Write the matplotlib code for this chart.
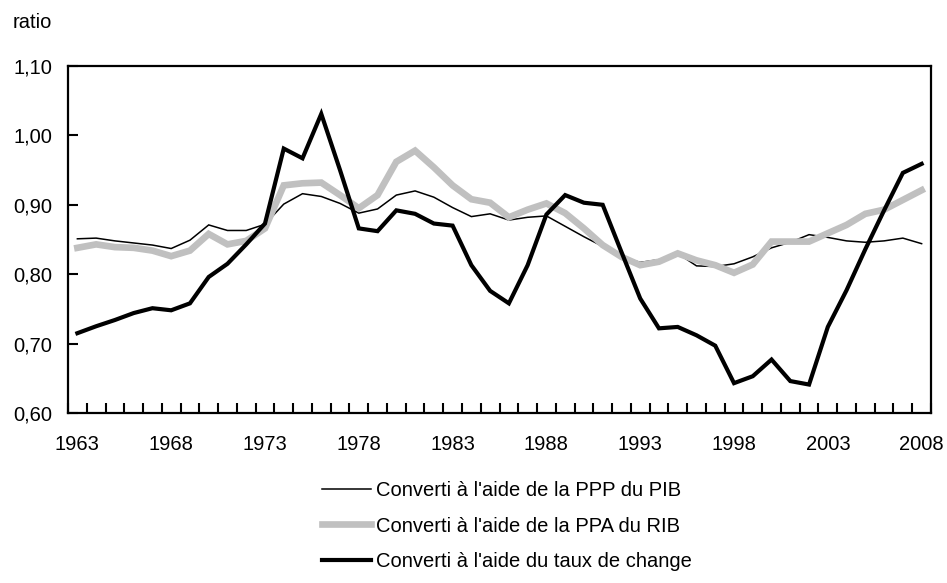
import matplotlib
matplotlib.use("Agg")
import matplotlib.pyplot as plt
import numpy as np

plt.rcParams['font.family'] = ['Liberation Sans', 'DejaVu Sans']

years = list(range(1963, 2009))

ppp_pib = [0.851, 0.852, 0.848, 0.845, 0.842, 0.837, 0.849, 0.871, 0.863, 0.863,
           0.872, 0.901, 0.916, 0.912, 0.902, 0.888, 0.894, 0.914, 0.920, 0.911,
           0.896, 0.883, 0.887, 0.878, 0.882, 0.884, 0.869, 0.854, 0.840, 0.825,
           0.817, 0.821, 0.830, 0.812, 0.811, 0.815, 0.825, 0.838, 0.846, 0.857,
           0.853, 0.848, 0.846, 0.848, 0.852, 0.844]

ppa_rib = [0.838, 0.843, 0.839, 0.838, 0.834, 0.826, 0.834, 0.858, 0.843, 0.848,
           0.866, 0.928, 0.931, 0.932, 0.914, 0.895, 0.914, 0.962, 0.978, 0.954,
           0.928, 0.908, 0.903, 0.882, 0.893, 0.902, 0.888, 0.866, 0.842, 0.825,
           0.813, 0.818, 0.830, 0.820, 0.813, 0.802, 0.814, 0.847, 0.847, 0.847,
           0.859, 0.871, 0.887, 0.893, 0.907, 0.921]

taux_change = [0.715, 0.725, 0.734, 0.744, 0.751, 0.748, 0.758, 0.796, 0.815, 0.843,
               0.873, 0.981, 0.967, 1.031, 0.950, 0.866, 0.862, 0.892, 0.887, 0.873,
               0.870, 0.813, 0.776, 0.758, 0.813, 0.886, 0.914, 0.903, 0.900, 0.832,
               0.765, 0.722, 0.724, 0.712, 0.697, 0.643, 0.653, 0.677, 0.646, 0.641,
               0.724, 0.777, 0.836, 0.892, 0.946, 0.959]

labels = ["Converti à l'aide de la PPP du PIB",
          "Converti à l'aide de la PPA du RIB",
          "Converti à l'aide du taux de change"]

ytick_vals = [0.60, 0.70, 0.80, 0.90, 1.00, 1.10]
xtick_years = [1963, 1968, 1973, 1978, 1983, 1988, 1993, 1998, 2003, 2008]

FS = 14.5
W, H = 947, 583
fig = plt.figure(figsize=(W / 100, H / 100), dpi=100)
ax = fig.add_axes([68 / W, 1 - 413 / H, (931 - 68) / W, (413 - 66) / H])

x = np.arange(len(years))
l1, = ax.plot(x, ppp_pib, color='black', lw=1.1, solid_joinstyle='miter')
l2, = ax.plot(x, ppa_rib, color='#c0c0c0', lw=4.8, solid_joinstyle='miter')
l3, = ax.plot(x, taux_change, color='black', lw=3.0, solid_joinstyle='miter')

ax.set_xlim(-0.5, len(years) - 0.5)
ax.set_ylim(0.60, 1.10)

ax.set_yticks(ytick_vals)
ax.set_yticklabels([f"{v:.2f}".replace('.', ',') for v in ytick_vals])
ax.tick_params(axis='y', direction='in', length=7, width=1.5, pad=11.5, labelsize=FS)

ax.set_xticks([years.index(y) for y in xtick_years])
ax.set_xticklabels([str(y) for y in xtick_years])
ax.tick_params(axis='x', which='major', length=0, pad=16, labelsize=FS)
ax.set_xticks(np.arange(-0.5, len(years), 1.0), minor=True)
ax.tick_params(axis='x', which='minor', direction='in', length=7, width=1.5)

for s in ax.spines.values():
    s.set_linewidth(1.6)
    s.set_color('black')

fig.text(13 / W, 1 - 22 / H, "ratio", fontsize=FS, ha='left', va='center')

fig.legend([l1, l2, l3], labels, loc='center left',
           bbox_to_anchor=(322 / W, 1 - 526 / H), frameon=False, fontsize=FS,
           handlelength=2.43, handletextpad=0.25, labelspacing=0.84, borderpad=0,
           borderaxespad=0)

fig.savefig("out.png", dpi=100)
